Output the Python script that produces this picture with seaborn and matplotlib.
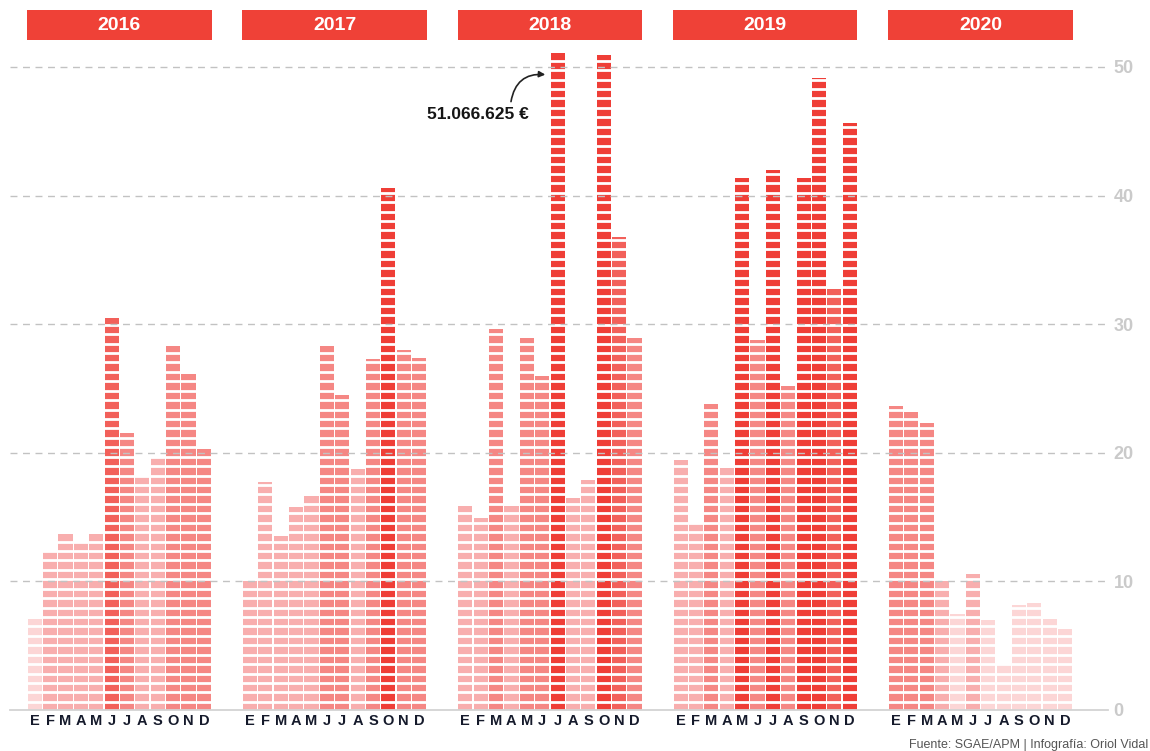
import numpy as np
import pandas as pd
import matplotlib
matplotlib.use("Agg")
import matplotlib.pyplot as plt
import seaborn as sns
from matplotlib.patches import Rectangle

# ---------------- data ----------------
years = ["2016", "2017", "2018", "2019", "2020"]
months = ["E", "F", "M", "A", "M", "J", "J", "A", "S", "O", "N", "D"]
v2016 = [7.05, 12.35, 13.7, 13.0, 13.7, 30.5, 21.55, 18.1, 19.6, 28.3, 26.1, 20.3]
v2017 = [10.0, 17.75, 13.5, 15.8, 16.6, 28.3, 24.5, 18.7, 27.3, 40.6, 28.0, 27.4]
v2018 = [15.85, 14.9, 29.6, 15.85, 28.9, 25.95, 51.07, 16.5, 17.9, 50.9, 36.8, 28.9]
v2019 = [19.4, 14.5, 23.8, 18.8, 41.4, 28.8, 42.0, 25.2, 41.4, 49.1, 32.7, 45.65]
v2020 = [23.6, 23.2, 22.35, 10.0, 7.5, 10.6, 7.0, 3.5, 8.2, 8.35, 7.1, 6.3]
series = [v2016, v2017, v2018, v2019, v2020]
y_ticks = [0, 10, 20, 30, 40, 50]
peak_label = "51.066.625 €"
source = "Fuente: SGAE/APM | Infografía: Oriol Vidal"

bin_colors = {"b0": "#fcd6d6", "b1": "#f8aeae", "b2": "#f58784",
              "b3": "#f2605a", "b4": "#ef3e37"}
box_color = "#ef4137"
year_step = 14

rows = []
for yi, vals in enumerate(series):
    for m, v in enumerate(vals):
        rows.append({"pos": yi * year_step + m, "value": v,
                     "bin": "b%d" % min(int(v // 10), 4), "month": months[m]})
df = pd.DataFrame(rows)

# ---------------- plot ----------------
sns.set_theme(style="white")
plt.rcParams["font.family"] = ["Liberation Sans", "DejaVu Sans"]

W, H = 1150, 751
fig = plt.figure(figsize=(W / 100, H / 100), dpi=100)
ax = fig.add_axes([10 / W, 41 / H, (1108 - 10) / W, 710 / H])

sns.barplot(data=df, x="pos", y="value", hue="bin", palette=bin_colors,
            native_scale=True, width=0.92, dodge=False, legend=False,
            errorbar=None, saturation=1, linewidth=0, ax=ax)

ax.set_xlim(-1.606, 69.79)
ax.set_ylim(0, 55.2)

# segmented look: thin white horizontal separators
pitch = 0.733
seps = np.arange(pitch, 51.3, pitch) - 0.1
ax.hlines(seps, -1.6, 69.8, colors="white", linewidth=2.0, zorder=2)

# grid
ax.set_yticks(y_ticks)
ax.yaxis.grid(True, linestyle=(0, (5, 4)), color="#c2c2c2", linewidth=1.0)
ax.xaxis.grid(False)
ax.set_axisbelow(False)
ax.get_ygridlines()[0].set_visible(False)

for s in ["top", "left", "right"]:
    ax.spines[s].set_visible(False)
ax.spines["bottom"].set_color("#d3d3d3")
ax.spines["bottom"].set_linewidth(1.3)

ax.yaxis.tick_right()
ax.tick_params(axis="y", length=0, pad=4, labelsize=13, labelcolor="#cacaca")
for lab in ax.get_yticklabels():
    lab.set_fontweight("bold")

ax.set_xticks(df["pos"].tolist())
ax.set_xticklabels(df["month"].tolist())
ax.tick_params(axis="x", length=0, pad=3, labelsize=10.5, labelcolor="#151a2b")
for lab in ax.get_xticklabels():
    lab.set_fontweight("bold")
ax.set_xlabel("")
ax.set_ylabel("")

# year header boxes
for yi, yr in enumerate(years):
    x0 = yi * year_step - 0.5
    ax.add_patch(Rectangle((x0, 52.1), 12, 2.3, facecolor=box_color,
                           edgecolor="none", zorder=4))
    ax.text(x0 + 6, 53.25, yr, ha="center", va="center", color="white",
            fontsize=14, fontweight="bold", zorder=5)

# annotation of the peak
peak_pos = 2 * year_step + 6
ax.text(peak_pos - 5.2, 46.3, peak_label, ha="center", va="center",
        fontsize=12.5, fontweight="bold", color="#151515", zorder=5)
ax.annotate("", xy=(peak_pos - 0.8, 49.4), xytext=(peak_pos - 3.03, 47.3),
            arrowprops=dict(arrowstyle="-|>", color="#222222", lw=1.2,
                            mutation_scale=9, shrinkA=0, shrinkB=0,
                            connectionstyle="arc3,rad=-0.45"), zorder=5)

fig.text(1148 / W, 1 - 745 / H, source, ha="right", va="center",
         fontsize=9, color="#555555")

fig.savefig("out.png", dpi=100)
